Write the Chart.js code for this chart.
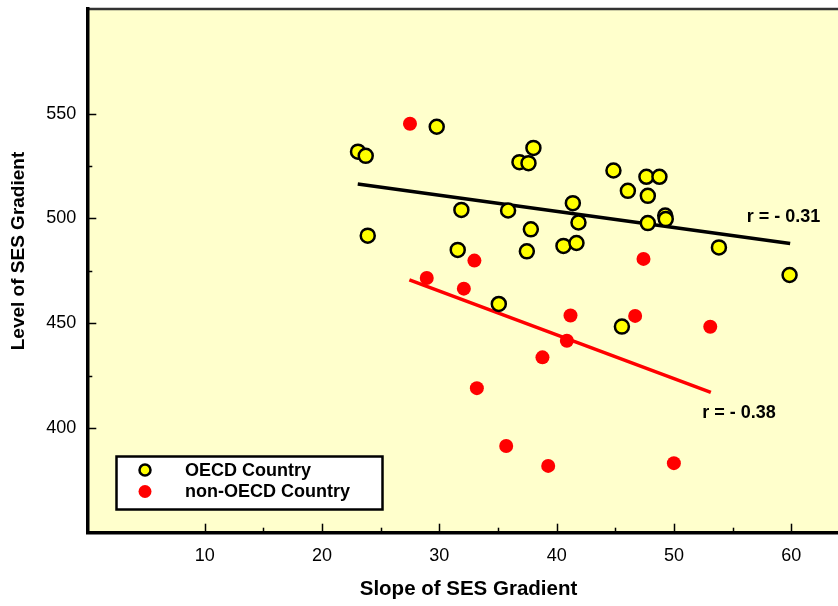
<!DOCTYPE html>
<html><head><meta charset="utf-8">
<script src="https://cdn.jsdelivr.net/npm/chart.js@4"></script>
<style>html,body{margin:0;padding:0;background:#fff;overflow:hidden}#wrap{width:838px;height:606px;overflow:hidden;position:relative}canvas{display:block}</style>
</head><body><div id="wrap"><canvas id="c" width="870" height="606"></canvas></div>
<script>
// ---- data ----
const oecdSlope = [23.07, 23.73, 23.9, 29.78, 38.02, 36.83, 37.6, 44.84, 47.65, 48.76, 46.07, 47.77, 41.38, 31.88, 35.86, 49.25, 49.3, 41.86, 47.77, 37.8, 53.83, 31.57, 37.46, 40.58, 41.69, 59.85, 35.07, 45.56];
const oecdLevel = [531.9, 529.9, 491.8, 543.8, 533.7, 526.9, 526.4, 522.9, 519.9, 519.9, 513.2, 510.8, 507.3, 504.1, 503.8, 501.4, 499.7, 498.1, 497.8, 494.8, 486.2, 485.0, 484.3, 486.9, 488.3, 473.0, 459.2, 448.4];
const nonOecdSlope = [27.5, 32.99, 47.4, 28.93, 32.09, 41.18, 46.69, 53.09, 40.87, 38.79, 33.2, 35.7, 39.28, 49.99];
const nonOecdLevel = [545.2, 479.9, 480.7, 471.6, 466.5, 453.7, 453.5, 448.3, 441.6, 433.7, 419.0, 391.4, 381.9, 383.2];
const oecdFitSlope = [23.05, 59.9];
const oecdFitLevel = [516.5, 488.1];
const nonOecdFitSlope = [27.45, 53.14];
const nonOecdFitLevel = [470.7, 417.0];
const xTickLabels = [10, 20, 30, 40, 50, 60];
const xMinorTicks = [15, 25, 35, 45, 55];
const yTickLabels = [400, 450, 500, 550];
const yMinorTicks = [425, 475, 525];
const seriesNames = ['OECD Country', 'non-OECD Country'];
const rLabels = ['r = - 0.31', 'r = - 0.38'];
const rLabelAnchors = [[56.2, 500.8], [52.4, 406.9]];
const xTitle = 'Slope of SES Gradient';
const yTitle = 'Level of SES Gradient';

const FONT = "'Liberation Sans', Arial, sans-serif";
const toPts = (xs, ys) => xs.map((x, i) => ({x: x, y: ys[i]}));

const decor = {
  id: 'decor',
  beforeDraw(chart) {
    const {ctx, chartArea: a} = chart;
    ctx.save();
    ctx.fillStyle = '#FFFFCC';
    ctx.fillRect(a.left, a.top, a.right - a.left, a.bottom - a.top);
    ctx.strokeStyle = '#333333';
    ctx.lineWidth = 2.5;
    ctx.beginPath();
    ctx.moveTo(a.left, a.top);
    ctx.lineTo(a.right, a.top);
    ctx.stroke();
    ctx.restore();
  },
  afterDatasetsDraw(chart) {
    const {ctx, chartArea: a, scales: {x, y}} = chart;
    ctx.save();
    // inward tick marks
    ctx.strokeStyle = '#000';
    ctx.lineWidth = 1.5;
    const tx = (vals, len) => vals.forEach(v => {
      const p = Math.round(x.getPixelForValue(v)) + 0.5;
      ctx.beginPath(); ctx.moveTo(p, a.bottom); ctx.lineTo(p, a.bottom - len); ctx.stroke();
    });
    const ty = (vals, len) => vals.forEach(v => {
      const p = Math.round(y.getPixelForValue(v)) + 0.5;
      ctx.beginPath(); ctx.moveTo(a.left, p); ctx.lineTo(a.left + len, p); ctx.stroke();
    });
    tx(xTickLabels, 9); tx(xMinorTicks, 5);
    ty(yTickLabels, 9); ty(yMinorTicks, 5);

    // r labels
    ctx.fillStyle = '#000';
    ctx.font = 'bold 18px ' + FONT;
    ctx.textAlign = 'left';
    ctx.textBaseline = 'middle';
    rLabels.forEach((t, i) => {
      ctx.fillText(t, x.getPixelForValue(rLabelAnchors[i][0]), y.getPixelForValue(rLabelAnchors[i][1]));
    });

    // legend box
    const lx = 116.5, ly = 456.5, lw = 266, lh = 53;
    ctx.fillStyle = '#fff';
    ctx.fillRect(lx, ly, lw, lh);
    ctx.strokeStyle = '#000';
    ctx.lineWidth = 2.5;
    ctx.strokeRect(lx, ly, lw, lh);
    const ds = chart.data.datasets;
    const rows = [470, 491.5];
    [0, 1].forEach(i => {
      const d = ds[i];
      ctx.beginPath();
      ctx.arc(145, rows[i], i === 0 ? 5.5 : 6.5, 0, Math.PI * 2);
      ctx.fillStyle = d.backgroundColor;
      ctx.fill();
      if (d.borderWidth) { ctx.lineWidth = 2.5; ctx.strokeStyle = d.borderColor; ctx.stroke(); }
      ctx.fillStyle = '#000';
      ctx.font = 'bold 18px ' + FONT;
      ctx.textAlign = 'left';
      ctx.textBaseline = 'middle';
      ctx.fillText(seriesNames[i], 185, rows[i] + 1);
    });

    // axis titles
    ctx.font = 'bold 20.5px ' + FONT;
    ctx.textAlign = 'center';
    ctx.textBaseline = 'middle';
    ctx.fillText(xTitle, 468.5, 589);
    ctx.save();
    ctx.translate(19, 251);
    ctx.rotate(-Math.PI / 2);
    ctx.font = 'bold 19px ' + FONT;
    ctx.fillText(yTitle, 0, 0);
    ctx.restore();
    ctx.restore();
  }
};

new Chart(document.getElementById('c'), {
  type: 'scatter',
  data: {
    datasets: [
      {label: seriesNames[0], data: toPts(oecdSlope, oecdLevel), backgroundColor: '#FFFF00', borderColor: '#000', borderWidth: 2.5, pointRadius: 7, order: 1},
      {label: seriesNames[1], data: toPts(nonOecdSlope, nonOecdLevel), backgroundColor: '#FF0000', borderColor: '#FF0000', borderWidth: 0, pointRadius: 7, order: 1},
      {type: 'line', label: 'OECD fit', data: toPts(oecdFitSlope, oecdFitLevel), borderColor: '#000', borderWidth: 3.5, pointRadius: 0, fill: false, order: 2},
      {type: 'line', label: 'non-OECD fit', data: toPts(nonOecdFitSlope, nonOecdFitLevel), borderColor: '#FF0000', borderWidth: 3.5, pointRadius: 0, fill: false, order: 2}
    ]
  },
  options: {
    responsive: false,
    animation: false,
    events: [],
    devicePixelRatio: 1,
    layout: {autoPadding: false, padding: {top: 9, right: 20, left: 0, bottom: 0}},
    plugins: {legend: {display: false}, tooltip: {enabled: false}, title: {display: false}},
    scales: {
      x: {
        type: 'linear', min: 0, max: 65,
        afterBuildTicks: s => { s.ticks = xTickLabels.map(v => ({value: v})); },
        afterFit: s => { s.height = 73.3; s.paddingLeft = 0; s.paddingRight = 0; s.paddingTop = 0; s.paddingBottom = 0; },
        grid: {display: false, drawTicks: false},
        border: {display: true, color: '#000', width: 3.5},
        ticks: {padding: 13, color: '#000', font: {family: FONT, size: 18}, maxRotation: 0, autoSkip: false}
      },
      y: {
        type: 'linear', min: 350, max: 600,
        afterBuildTicks: s => { s.ticks = yTickLabels.map(v => ({value: v})); },
        afterFit: s => { s.width = 87.3; s.paddingTop = 0; s.paddingBottom = 0; s.paddingLeft = 0; s.paddingRight = 0; },
        grid: {display: false, drawTicks: false},
        border: {display: true, color: '#000', width: 3.5},
        ticks: {padding: 11, color: '#000', font: {family: FONT, size: 18}, autoSkip: false}
      }
    }
  },
  plugins: [decor]
});
</script>
</body></html>
